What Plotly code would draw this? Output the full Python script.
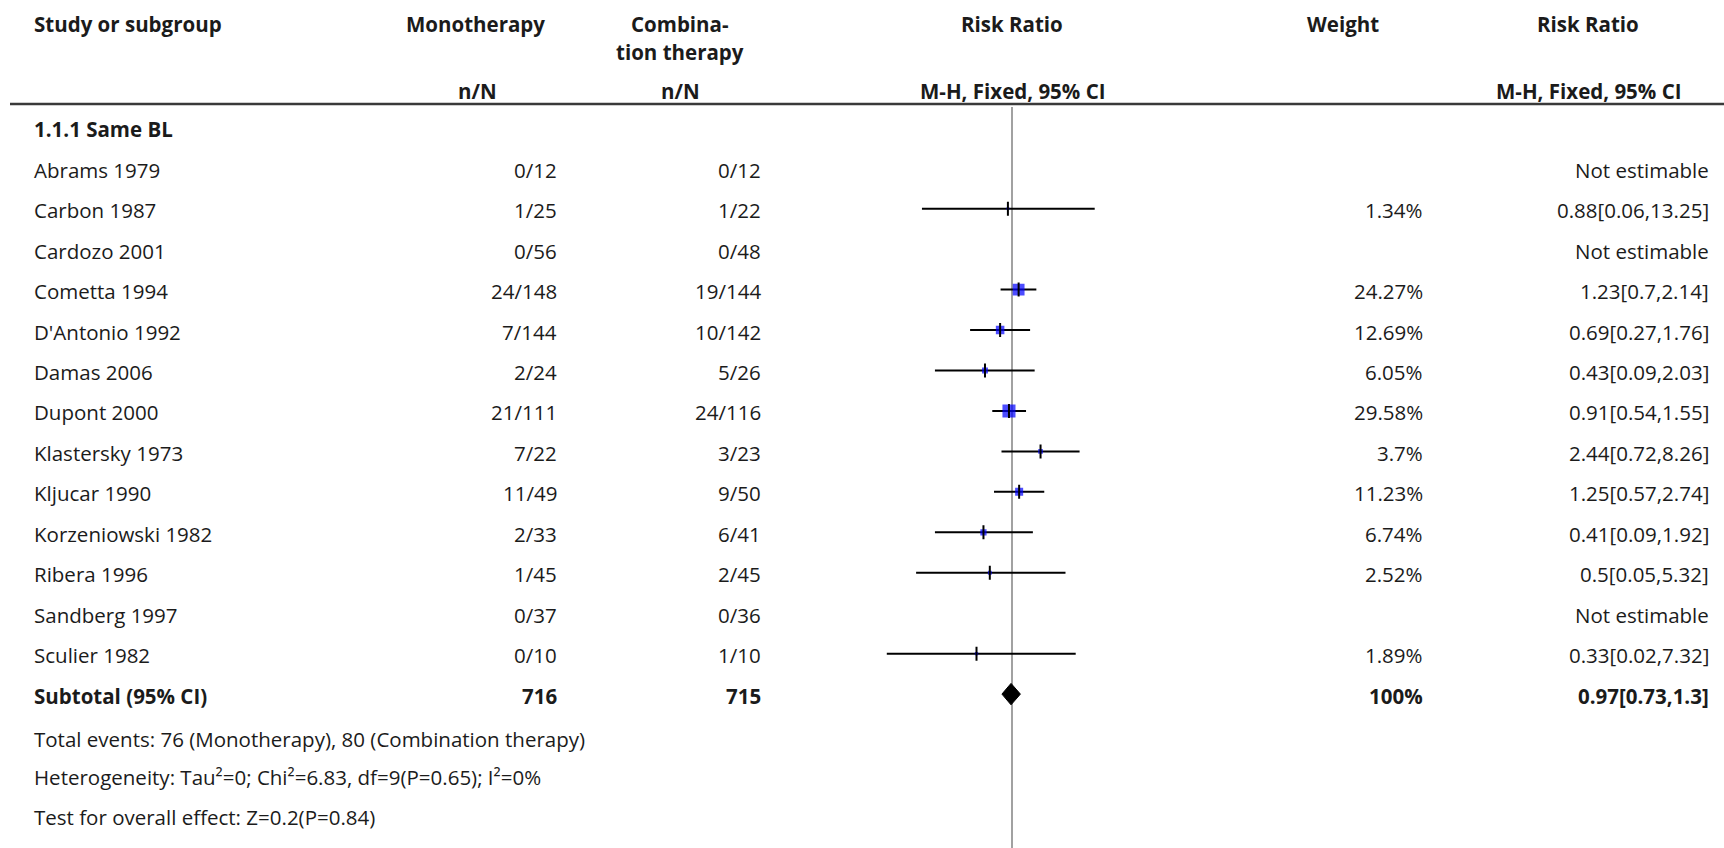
import plotly.graph_objects as go

# ---- data -------------------------------------------------------------
studies = ["Abrams 1979", "Carbon 1987", "Cardozo 2001", "Cometta 1994",
           "D'Antonio 1992", "Damas 2006", "Dupont 2000", "Klastersky 1973",
           "Kljucar 1990", "Korzeniowski 1982", "Ribera 1996", "Sandberg 1997",
           "Sculier 1982"]
mono_events = [0, 1, 0, 24, 7, 2, 21, 7, 11, 2, 1, 0, 0]
mono_total = [12, 25, 56, 148, 144, 24, 111, 22, 49, 33, 45, 37, 10]
combo_events = [0, 1, 0, 19, 10, 5, 24, 3, 9, 6, 2, 0, 1]
combo_total = [12, 22, 48, 144, 142, 26, 116, 23, 50, 41, 45, 36, 10]
weights = [None, 1.34, None, 24.27, 12.69, 6.05, 29.58, 3.7, 11.23, 6.74, 2.52, None, 1.89]
rr = [None, 0.88, None, 1.23, 0.69, 0.43, 0.91, 2.44, 1.25, 0.41, 0.5, None, 0.33]
ci_low = [None, 0.06, None, 0.7, 0.27, 0.09, 0.54, 0.72, 0.57, 0.09, 0.05, None, 0.02]
ci_high = [None, 13.25, None, 2.14, 1.76, 2.03, 1.55, 8.26, 2.74, 1.92, 5.32, None, 7.32]

subgroup_label = "1.1.1 Same BL"
subtotal_mono = 716
subtotal_combo = 715
subtotal_weight = 100
subtotal_rr = 0.97
subtotal_low = 0.73
subtotal_high = 1.3
footer_lines = [
    "Total events: 76 (Monotherapy), 80 (Combination therapy)",
    "Heterogeneity: Tau\u00b2=0; Chi\u00b2=6.83, df=9(P=0.65); I\u00b2=0%",
    "Test for overall effect: Z=0.2(P=0.84)",
]

# ---- layout constants ------------------------------------------------
W, H = 1724, 848
FONT = "Open Sans"
FS = 20.5
TXT = "#1b1b1b"
ROW0_PX = 127.8      # pixel centre of the subgroup row
ROW_PX = 40.45       # row pitch in pixels
CENTER_PX = 1012     # pixel of RR = 1
DECADE_PX = 73.7     # pixels per decade on the log scale
TEXT_SHIFT = -1.5    # small downward nudge of text boxes


def row_of(px):
    return (px - ROW0_PX) / ROW_PX


def fmt(v):
    return f"{v:g}"


def px(x):
    return x / W


n = len(studies)
study_rows = list(range(1, n + 1))
subtotal_row = n + 1
footer_rows = [row_of(737.3), row_of(775.7), row_of(815.5)]

fig = go.Figure()

# reference line at RR = 1
fig.add_trace(go.Scatter(x=[1, 1], y=[row_of(107), row_of(H)], mode="lines",
                         line=dict(color="#8a8a8a", width=1.6),
                         hoverinfo="skip", showlegend=False))

# confidence interval whiskers
cx, cy = [], []
for r, lo, hi in zip(study_rows, ci_low, ci_high):
    if lo is None:
        continue
    cx += [lo, hi, None]
    cy += [r, r, None]
fig.add_trace(go.Scatter(x=cx, y=cy, mode="lines",
                         line=dict(color="black", width=2),
                         hoverinfo="skip", showlegend=False))

# weight squares (area proportional to weight)
sx, sy, ss = [], [], []
for r, v, w in zip(study_rows, rr, weights):
    if v is None:
        continue
    sx.append(v)
    sy.append(r)
    ss.append(2.4 * w ** 0.5)
fig.add_trace(go.Scatter(x=sx, y=sy, mode="markers",
                         marker=dict(symbol="square", size=ss, color="#0000ff",
                                     line=dict(width=0)),
                         hoverinfo="skip", showlegend=False))

# point-estimate ticks
fig.add_trace(go.Scatter(x=sx, y=sy, mode="markers",
                         marker=dict(symbol="line-ns", size=10,
                                     line=dict(color="black", width=2)),
                         hoverinfo="skip", showlegend=False))

# pooled estimate diamond
dh = 0.265
fig.add_trace(go.Scatter(
    x=[subtotal_low, subtotal_rr, subtotal_high, subtotal_rr, subtotal_low],
    y=[subtotal_row, subtotal_row - dh, subtotal_row, subtotal_row + dh, subtotal_row],
    mode="lines", fill="toself", fillcolor="black",
    line=dict(color="black", width=1), hoverinfo="skip", showlegend=False))

# ---- text table --------------------------------------------------------
ann = []


def add_text(x, y, text, anchor="left", bold=False):
    if bold:
        text = f"<b>{text}</b>"
    ann.append(dict(x=px(x), y=y, xref="paper", yref="y", text=text,
                    showarrow=False, xanchor=anchor, yanchor="middle",
                    yshift=TEXT_SHIFT,
                    font=dict(family=FONT, size=FS, color=TXT)))


# header block
hdr1, hdr2, hdr_n = row_of(22.7), row_of(50), row_of(89.5)
add_text(31.7, hdr1, "Study or subgroup", bold=True)
add_text(476, hdr1, "Monotherapy", "center", True)
add_text(680, hdr1, "Combina-", "center", True)
add_text(680, hdr2, "tion therapy", "center", True)
add_text(1012, hdr1, "Risk Ratio", "center", True)
add_text(1343, hdr1, "Weight", "center", True)
add_text(1588, hdr1, "Risk Ratio", "center", True)
add_text(477, hdr_n, "n/N", "center", True)
add_text(680, hdr_n, "n/N", "center", True)
add_text(1012, hdr_n, "M-H, Fixed, 95% CI", "center", True)
add_text(1588, hdr_n, "M-H, Fixed, 95% CI", "center", True)

add_text(31.7, 0, subgroup_label, bold=True)

for i, r in enumerate(study_rows):
    add_text(31.7, r, studies[i])
    add_text(558.5, r, f"{mono_events[i]}/{mono_total[i]}", "right")
    add_text(763, r, f"{combo_events[i]}/{combo_total[i]}", "right")
    if rr[i] is None:
        add_text(1711, r, "Not estimable", "right")
    else:
        add_text(1425, r, f"{fmt(weights[i])}%", "right")
        add_text(1711, r, f"{fmt(rr[i])}[{fmt(ci_low[i])},{fmt(ci_high[i])}]", "right")

add_text(31.7, subtotal_row, "Subtotal (95% CI)", bold=True)
add_text(558.5, subtotal_row, str(subtotal_mono), "right", True)
add_text(763, subtotal_row, str(subtotal_combo), "right", True)
add_text(1425, subtotal_row, f"{subtotal_weight}%", "right", True)
add_text(1711, subtotal_row,
         f"{fmt(subtotal_rr)}[{fmt(subtotal_low)},{fmt(subtotal_high)}]", "right", True)

for r, line in zip(footer_rows, footer_lines):
    add_text(31.7, r, line)

# rule under the header
shapes = [dict(type="line", xref="paper", yref="y", x0=px(10), x1=1,
               y0=row_of(104), y1=row_of(104),
               line=dict(color="#3a3a3a", width=2.6))]

x0_px = CENTER_PX - 2 * DECADE_PX
x1_px = CENTER_PX + 2 * DECADE_PX

fig.update_layout(
    width=W, height=H,
    margin=dict(l=0, r=0, t=0, b=0),
    paper_bgcolor="white", plot_bgcolor="white",
    annotations=ann, shapes=shapes,
    xaxis=dict(type="log", range=[-2, 2], domain=[px(x0_px), px(x1_px)],
               showgrid=False, zeroline=False, showticklabels=False,
               showline=False, ticks=""),
    yaxis=dict(range=[row_of(H), row_of(0)], domain=[0, 1],
               showgrid=False, zeroline=False, showticklabels=False,
               showline=False, ticks=""),
    font=dict(family=FONT, size=FS, color=TXT),
)

fig.write_html("out.html")
